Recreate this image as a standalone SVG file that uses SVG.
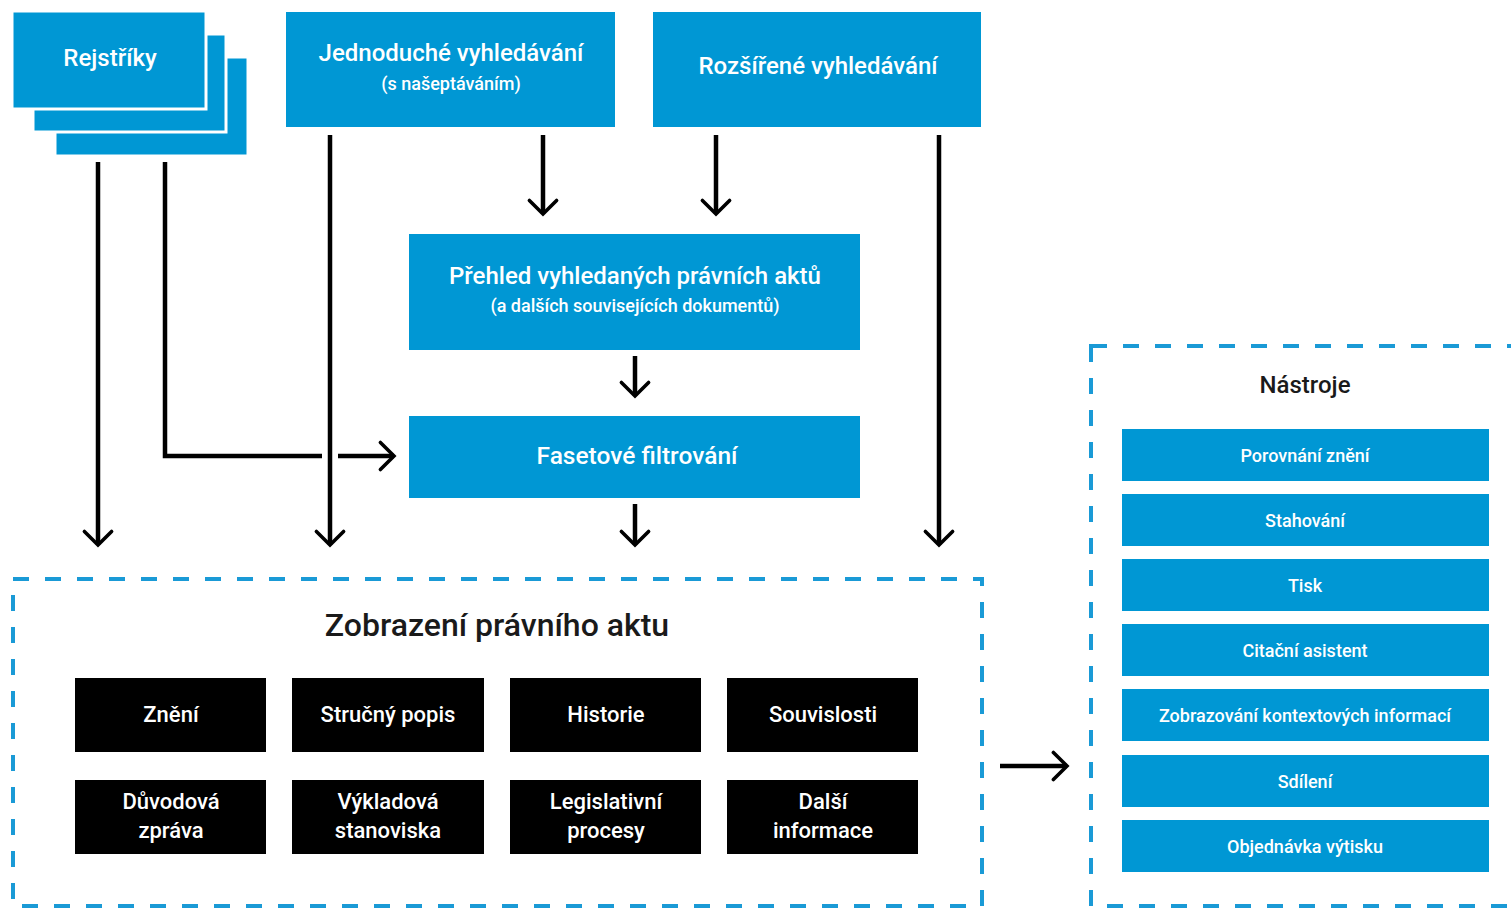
<svg xmlns="http://www.w3.org/2000/svg" width="1511" height="909" viewBox="0 0 1511 909">
<defs>
<style>
.blue{fill:#0097d4}
.blk{fill:#000}
.wt{fill:#fff;font-family:Roboto,"Liberation Sans",sans-serif;text-anchor:middle;font-weight:500}
.bt{fill:#1a1a1a;font-family:Roboto,"Liberation Sans",sans-serif;text-anchor:middle;font-weight:500}
.dash{fill:none;stroke:#1a9ad6;stroke-width:4;stroke-dasharray:16 16}
.con{fill:none;stroke:#000;stroke-width:4.5;marker-end:url(#ah)}
.conn{fill:none;stroke:#000;stroke-width:4.5}
</style>
<marker id="ah" markerUnits="userSpaceOnUse" markerWidth="40" markerHeight="40" viewBox="-25 -25 50 50" refX="0" refY="0" orient="auto" overflow="visible">
<path d="M -17 -17 L 0 0 L -17 17" fill="none" stroke="#000" stroke-width="4.5" stroke-linecap="round" stroke-linejoin="miter"/>
</marker>
</defs>
<rect width="1511" height="909" fill="#fff"/>

<g id="rejstriky">
<rect class="blue" x="55" y="57" width="193" height="99" stroke="#fff" stroke-width="3"/>
<rect class="blue" x="33" y="34" width="193" height="98" stroke="#fff" stroke-width="3"/>
<rect class="blue" x="12" y="11" width="194" height="98" stroke="#fff" stroke-width="3"/>
<text class="wt" x="110" y="66" font-size="24">Rejstříky</text>
</g>

<g id="jednoduche">
<rect class="blue" x="286" y="12" width="329" height="115"/>
<text class="wt" x="451" y="61" font-size="24">Jednoduché vyhledávání</text>
<text class="wt" x="451" y="90" font-size="18">(s našeptáváním)</text>
</g>

<g id="rozsirene">
<rect class="blue" x="653" y="12" width="328" height="115"/>
<text class="wt" x="818" y="74" font-size="24">Rozšířené vyhledávání</text>
</g>

<g id="prehled">
<rect class="blue" x="409" y="234" width="451" height="116"/>
<text class="wt" x="635" y="284" font-size="24">Přehled vyhledaných právních aktů</text>
<text class="wt" x="635" y="312" font-size="18">(a dalších souvisejících dokumentů)</text>
</g>

<g id="fasetove">
<rect class="blue" x="409" y="416" width="451" height="82"/>
<text class="wt" x="637" y="464" font-size="24.5">Fasetové filtrování</text>
</g>

<g id="zobrazeni">
<rect class="dash" x="13" y="579" width="969" height="327"/>
<text class="bt" x="497" y="636" font-size="32">Zobrazení právního aktu</text>
<g id="zneni"><rect class="blk" x="75" y="678" width="191" height="74"/><text class="wt" x="171" y="722" font-size="22">Znění</text></g>
<g id="strucny"><rect class="blk" x="292" y="678" width="192" height="74"/><text class="wt" x="388" y="722" font-size="22">Stručný popis</text></g>
<g id="historie"><rect class="blk" x="510" y="678" width="191" height="74"/><text class="wt" x="606" y="722" font-size="22">Historie</text></g>
<g id="souvislosti"><rect class="blk" x="727" y="678" width="191" height="74"/><text class="wt" x="823" y="722" font-size="22">Souvislosti</text></g>
<g id="duvodova"><rect class="blk" x="75" y="780" width="191" height="74"/><text class="wt" x="171" y="809" font-size="22">Důvodová</text><text class="wt" x="171" y="838" font-size="22">zpráva</text></g>
<g id="vykladova"><rect class="blk" x="292" y="780" width="192" height="74"/><text class="wt" x="388" y="809" font-size="22">Výkladová</text><text class="wt" x="388" y="838" font-size="22">stanoviska</text></g>
<g id="legislativni"><rect class="blk" x="510" y="780" width="191" height="74"/><text class="wt" x="606" y="809" font-size="22">Legislativní</text><text class="wt" x="606" y="838" font-size="22">procesy</text></g>
<g id="dalsi"><rect class="blk" x="727" y="780" width="191" height="74"/><text class="wt" x="823" y="809" font-size="22">Další</text><text class="wt" x="823" y="838" font-size="22">informace</text></g>
</g>

<g id="nastroje">
<rect class="dash" x="1091" y="346" width="440" height="560"/>
<text class="bt" x="1305" y="393" font-size="24">Nástroje</text>
<g id="porovnani"><rect class="blue" x="1122" y="429" width="367" height="52"/><text class="wt" x="1305" y="462" font-size="18">Porovnání znění</text></g>
<g id="stahovani"><rect class="blue" x="1122" y="494" width="367" height="52"/><text class="wt" x="1305" y="527" font-size="18">Stahování</text></g>
<g id="tisk"><rect class="blue" x="1122" y="559" width="367" height="52"/><text class="wt" x="1305" y="592" font-size="18">Tisk</text></g>
<g id="citacni"><rect class="blue" x="1122" y="624" width="367" height="52"/><text class="wt" x="1305" y="657" font-size="18">Citační asistent</text></g>
<g id="kontext"><rect class="blue" x="1122" y="689" width="367" height="52"/><text class="wt" x="1305" y="722" font-size="18">Zobrazování kontextových informací</text></g>
<g id="sdileni"><rect class="blue" x="1122" y="755" width="367" height="52"/><text class="wt" x="1305" y="788" font-size="18">Sdílení</text></g>
<g id="objednavka"><rect class="blue" x="1122" y="820" width="367" height="52"/><text class="wt" x="1305" y="853" font-size="18">Objednávka výtisku</text></g>
</g>

<g id="connectors">
<path class="con" d="M98 162 V545"/>
<path class="conn" d="M165 162 V456 H322"/>
<path class="con" d="M338 456 H394"/>
<path class="con" d="M330 135 V545"/>
<path class="con" d="M543 135 V214"/>
<path class="con" d="M716 135 V214"/>
<path class="con" d="M939 135 V545"/>
<path class="con" d="M635 356 V396"/>
<path class="con" d="M635 504 V545"/>
<path class="con" d="M1000 766 H1067"/>
</g>
</svg>
